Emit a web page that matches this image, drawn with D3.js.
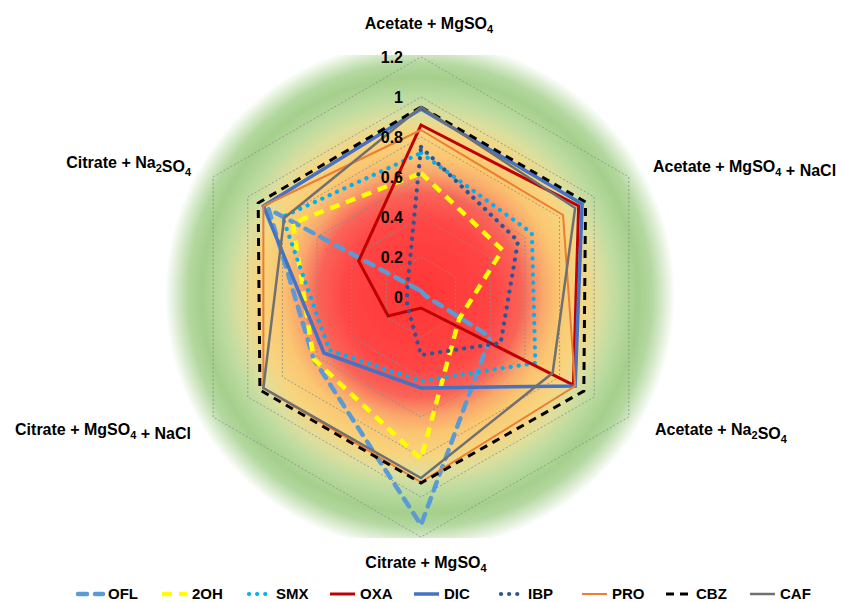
<!DOCTYPE html>
<html><head><meta charset="utf-8">
<script src="https://cdn.jsdelivr.net/npm/d3@7"></script>
<style>
body{margin:0;background:#fff}
svg{display:block;font-family:"Liberation Sans",Arial,Helvetica,sans-serif;font-weight:bold}
</style>
</head><body>
<svg id="c" width="844" height="602"></svg>
<script>
// ---- data ----
const categories = ["Acetate + MgSO4", "Acetate + MgSO4 + NaCl", "Acetate + Na2SO4",
                    "Citrate + MgSO4", "Citrate + MgSO4 + NaCl", "Citrate + Na2SO4"];
const seriesNames = ["OFL", "2OH", "SMX", "OXA", "DIC", "IBP", "PRO", "CBZ", "CAF"];
const OFL = [0.03, 0.02, 0.40, 1.14, 0.62, 0.88];
const OH2 = [0.62, 0.47, 0.22, 0.81, 0.62, 0.74];
const SMX = [0.72, 0.64, 0.66, 0.42, 0.53, 0.80];
const OXA = [0.86, 0.91, 0.88, 0.055, 0.19, 0.36];
const DIC = [0.94, 0.93, 0.89, 0.455, 0.56, 0.91];
const IBP = [0.75, 0.56, 0.46, 0.29, 0.08, 0.08];
const PRO = [0.835, 0.82, 0.89, 0.925, 0.91, 0.91];
const CBZ = [0.95, 0.95, 0.94, 0.93, 0.93, 0.94];
const CAF = [0.95, 0.89, 0.76, 0.905, 0.91, 0.79];
const seriesValues = [OFL, OH2, SMX, OXA, DIC, IBP, PRO, CBZ, CAF];
const tickValues = [0, 0.2, 0.4, 0.6, 0.8, 1, 1.2];
const tickLabels = ["0", "0.2", "0.4", "0.6", "0.8", "1", "1.2"];

// ---- styles ----
const styles = [
  {color:"#5B9BD5", w:4.5, dash:"9,8", cap:"round"},
  {color:"#FFFF00", w:4.5, dash:"10,7", cap:"butt"},
  {color:"#00B0F0", w:4.2, dash:"0.1,8", cap:"round"},
  {color:"#C00000", w:3, dash:null, cap:"butt"},
  {color:"#4472C4", w:3.5, dash:null, cap:"butt"},
  {color:"#2F5597", w:4.2, dash:"0.1,8", cap:"round"},
  {color:"#ED7D31", w:2, dash:null, cap:"butt"},
  {color:"#000000", w:3, dash:"8,6", cap:"butt"},
  {color:"#707070", w:2.5, dash:null, cap:"butt"}
];

const svg = d3.select("#c");
const cx = 421, cy = 297;
const r = d3.scaleLinear().domain([0, 1.2]).range([0, 240]);
const ang = d3.scaleLinear().domain([0, categories.length]).range([0, 2 * Math.PI]);
const radial = d3.lineRadial().angle((d, i) => ang(i)).radius(d => r(d)).curve(d3.curveLinearClosed);

// background gradient
const defs = svg.append("defs");
const bgR = 255, bgX = cx - 1, bgY = cy - 2;
const grad = defs.append("radialGradient").attr("id", "bg")
  .attr("gradientUnits", "userSpaceOnUse").attr("cx", bgX).attr("cy", bgY).attr("r", bgR);
[[0, "#FF3535"], [0.294, "#FF4545"], [0.40, "#F96458"], [0.482, "#F9A86C"], [0.545, "#FBC671"],
 [0.63, "#F8D47E"], [0.706, "#DCDF9E"], [0.776, "#BCDBA0"], [0.855, "#A5CF8C"], [0.91, "#B4D8A0"],
 [0.96, "#DDEDD3"], [1, "#FFFFFF"]]
 .forEach(([o, c]) => grad.append("stop").attr("offset", o).attr("stop-color", c));
defs.append("clipPath").attr("id", "clipbg").append("rect")
  .attr("x", 0).attr("y", 55).attr("width", 844).attr("height", 483);
svg.append("circle").attr("cx", bgX).attr("cy", bgY).attr("r", bgR)
  .attr("fill", "url(#bg)").attr("clip-path", "url(#clipbg)");

const g = svg.append("g").attr("transform", `translate(${cx},${cy})`);

// grid hexagons
g.selectAll("path.grid").data(tickValues.filter(v => v > 0)).join("path")
  .attr("class", "grid")
  .attr("d", v => radial(categories.map(() => v)))
  .attr("fill", "none").attr("stroke", "#8C8C8C").attr("stroke-width", 0.8)
  .attr("stroke-dasharray", "2,2");

// series
seriesValues.forEach((vals, k) => {
  const s = styles[k];
  g.append("path").attr("d", radial(vals))
    .attr("fill", "none").attr("stroke", s.color).attr("stroke-width", s.w)
    .attr("stroke-dasharray", s.dash).attr("stroke-linecap", s.cap)
    .attr("stroke-linejoin", "miter");
});

// tick labels
g.selectAll("text.tick").data(tickValues).join("text")
  .attr("class", "tick")
  .attr("x", -18).attr("y", v => -r(v)).attr("dy", "0.36em")
  .attr("text-anchor", "end").attr("font-size", 16).attr("fill", "#000")
  .text((v, i) => tickLabels[i]);

// axis labels with chemical subscripts
const labelPos = [
  {x: 429, y: 29, anchor: "middle"},
  {x: 653, y: 172, anchor: "start"},
  {x: 655, y: 435, anchor: "start"},
  {x: 426, y: 568, anchor: "middle"},
  {x: 191, y: 435, anchor: "end"},
  {x: 191, y: 168, anchor: "end"}
];
categories.forEach((c, i) => {
  const p = labelPos[i];
  const t = svg.append("text").attr("x", p.x).attr("y", p.y)
    .attr("text-anchor", p.anchor).attr("font-size", 16).attr("fill", "#000");
  const parts = c.split(/(?<=[A-Za-z])(\d)/);
  parts.forEach((part, j) => {
    if (!part) return;
    if (/^\d$/.test(part) && j % 2 === 1) {
      t.append("tspan").attr("font-size", 11).attr("dy", 4).text(part);
      t.append("tspan").attr("dy", -4).text("");
    } else {
      t.append("tspan").text(part);
    }
  });
});

// legend
const legX = d3.scaleLinear().domain([0, seriesNames.length - 1]).range([78, 750]);
const leg = svg.append("g");
seriesNames.forEach((n, k) => {
  const s = styles[k];
  const x0 = legX(k);
  const dotted = s.dash && s.dash.startsWith("0.1");
  leg.append("line").attr("x1", x0 + (dotted ? 3 : 0)).attr("x2", x0 + (dotted ? 21 : 25))
    .attr("y1", 594).attr("y2", 594)
    .attr("stroke", s.color).attr("stroke-width", s.w)
    .attr("stroke-dasharray", s.dash).attr("stroke-linecap", s.cap);
  leg.append("text").attr("x", x0 + 30).attr("y", 594).attr("dy", "0.36em")
    .attr("font-size", 15).attr("fill", "#000").text(n);
});
</script>
</body></html>
